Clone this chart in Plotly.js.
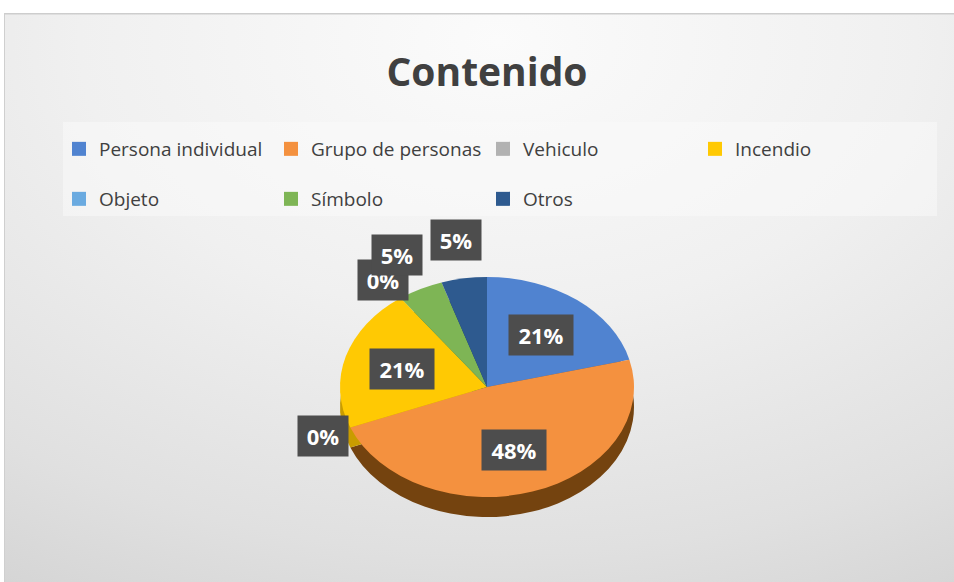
<!DOCTYPE html>
<html>
<head>
<meta charset="utf-8">
<script src="https://cdn.plot.ly/plotly-3.0.1.min.js"></script>
<style>
  html, body { margin:0; padding:0; background:#ffffff; width:954px; height:582px; overflow:hidden; }
  #chart {
    position:absolute; left:4px; top:13px; width:950px; height:569px;
    background: radial-gradient(ellipse 110% 120% at 52% 5%, #fbfbfb 0%, #f0f0f0 40%, #e0e0e0 75%, #d0d0d0 100%);
  }
</style>
</head>
<body>
<div id="chart"></div>
<script>
// ---- data ----
const categories = ['Persona individual', 'Grupo de personas', 'Vehiculo', 'Incendio', 'Objeto', 'Símbolo', 'Otros'];
const percentages = [21, 48, 0, 21, 0, 5, 5];
const labelTexts = percentages.map(v => v + '%');
const topColors  = ['#5083d0', '#f4913f', '#b2b2b2', '#ffc903', '#6aaae0', '#7eb555', '#2e5a8f'];
const sideColors = ['#2f5591', '#74430f', '#707070', '#c99c00', '#3f76a8', '#4e7a30', '#1b365a'];
const legendRow1Count = 4;

// ---- geometry (layout, not data) ----
const W = 950, H = 569, OX = 4, OY = 13;
const cxPage = 487, cyPage = 387, rx = 147, ry = 110, depth = 20;
const k = ry / rx;
const cxDiv = cxPage - OX, cyDiv = cyPage - OY;
const sideCyDiv = cyDiv + depth / k;
function dom(cx, cy, r) {
  return { x: [(cx - r) / W, (cx + r) / W], y: [(H - cy - r) / H, (H - cy + r) / H] };
}
const px2x = p => (p - OX) / W;
const px2y = p => 1 - (p - OY) / H;

const FONT = 'Open Sans, Noto Sans, sans-serif';

const sidePie = {
  type: 'pie', labels: categories, values: percentages, sort: false,
  direction: 'clockwise', rotation: 0, textinfo: 'none', hoverinfo: 'skip',
  marker: { colors: sideColors, line: { width: 0 } },
  domain: dom(cxDiv, sideCyDiv, rx), showlegend: false
};
const mainPie = {
  type: 'pie', labels: categories, values: percentages, sort: false,
  direction: 'clockwise', rotation: 0, textinfo: 'none', hoverinfo: 'skip',
  marker: { colors: topColors, line: { width: 0 } },
  domain: dom(cxDiv, cyDiv, rx), showlegend: false
};

// legend entries (two rows as two legends)
const legendTraces = categories.map((c, i) => ({
  type: 'scatter', mode: 'markers', x: [null], y: [null], name: c,
  marker: { symbol: 'square', size: 14, color: topColors[i] },
  legend: i < legendRow1Count ? 'legend' : 'legend2', hoverinfo: 'skip'
}));

// data labels computed from slice mid-angles
const total = percentages.reduce((a, b) => a + b, 0);
let cum = 0;
const annotations = percentages.map((v, i) => {
  const mid = (cum + v / 2) / total * 2 * Math.PI;
  cum += v;
  const inside = v >= 10;
  const f = inside ? 0.6 : (v > 0 ? 1.35 : 1.2);
  const px = cxPage + f * rx * Math.sin(mid);
  const py = cyPage - f * ry * Math.cos(mid);
  return {
    x: px2x(px), y: px2y(py), xref: 'paper', yref: 'paper',
    xanchor: 'center', yanchor: 'middle', showarrow: false,
    text: '<b>' + labelTexts[i] + '</b>',
    font: { family: FONT, size: 22, color: '#ffffff' },
    bgcolor: '#4d4d4d', width: inside ? 62 : 48, height: 38
  };
});

const legendCommon = {
  orientation: 'h', entrywidth: 167, entrywidthmode: 'pixels',
  x: px2x(59), xanchor: 'left', yanchor: 'middle',
  bgcolor: 'rgba(0,0,0,0)', borderwidth: 0,
  font: { family: FONT, size: 19, color: '#404040' },
  itemclick: false, itemdoubleclick: false
};

const layout = {
  width: W, height: H,
  margin: { l: 0, r: 0, t: 0, b: 0 },
  paper_bgcolor: 'rgba(0,0,0,0)', plot_bgcolor: 'rgba(0,0,0,0)',
  title: {
    text: '<b>Contenido</b>', x: px2x(487), xanchor: 'center', xref: 'paper',
    y: px2y(72), yanchor: 'middle', yref: 'paper',
    font: { family: FONT, size: 39, color: '#404040' }
  },
  xaxis: { visible: false }, yaxis: { visible: false },
  legend: Object.assign({}, legendCommon, { y: px2y(149) }),
  legend2: Object.assign({}, legendCommon, { y: px2y(199) }),
  annotations: annotations,
  shapes: [
    { type: 'rect', xref: 'paper', yref: 'paper', layer: 'below',
      x0: px2x(63), x1: px2x(937), y0: px2y(216), y1: px2y(122),
      fillcolor: 'rgba(250,250,250,0.55)', line: { width: 0 } },
    { type: 'line', xref: 'paper', yref: 'paper', x0: 0, x1: 1, y0: 1, y1: 1,
      line: { color: '#cdcdcd', width: 3 } },
    { type: 'line', xref: 'paper', yref: 'paper', x0: 0, x1: 0, y0: 0, y1: 1,
      line: { color: '#cfcfcf', width: 2 } }
  ],
  showlegend: true
};

Plotly.newPlot('chart', [sidePie, mainPie].concat(legendTraces), layout, { staticPlot: true, displayModeBar: false })
  .then(gd => {
    const pl = gd.querySelector('.pielayer');
    if (pl) pl.setAttribute('transform', 'translate(0,' + cyDiv + ') scale(1,' + k + ') translate(0,' + (-cyDiv) + ')');
  });
</script>
</body>
</html>
